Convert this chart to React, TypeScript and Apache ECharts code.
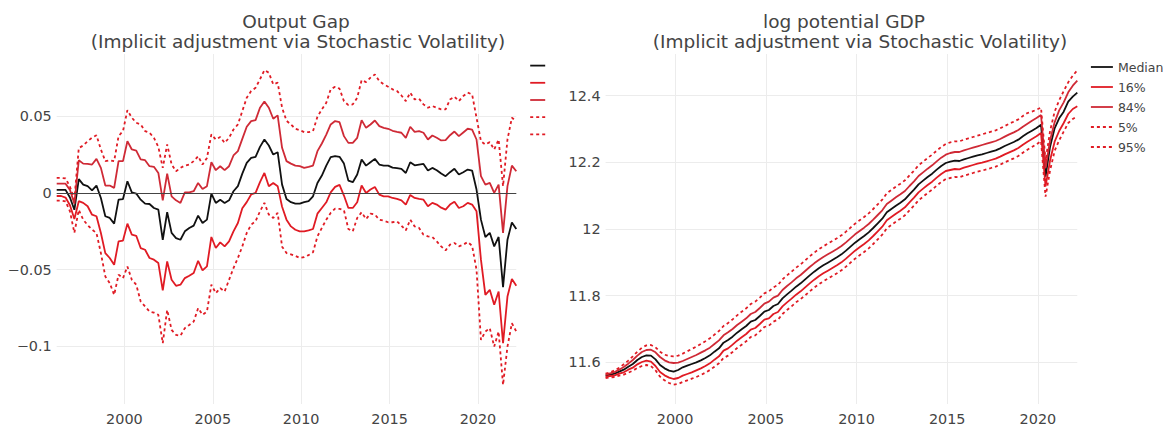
import React, { useEffect, useRef } from "react";
import * as echarts from "echarts";

// ---- x: quarterly observations (decimal years) ----
const START_YEAR = 1996.17;
const N_QUARTERS = 105;
const years: number[] = Array.from({ length: N_QUARTERS }, (_, i) => +(START_YEAR + i * 0.25).toFixed(2));

// ---- tick labels ----
const yearTicks = [2000, 2005, 2010, 2015, 2020];
const yearLabels = ["2000", "2005", "2010", "2015", "2020"];
const gapTicks = [-0.1, -0.05, 0, 0.05];
const gapLabels = ["\u22120.1", "\u22120.05", "0", "0.05"];
const gdpTicks = [11.6, 11.8, 12, 12.2, 12.4];
const gdpLabels = ["11.6", "11.8", "12", "12.2", "12.4"];

const seriesNames = ["Median", "16%", "84%", "5%", "95%"];

// ---- Output gap ----
const gapMedian = [
  0.002, 0.002, 0.002, -0.003, -0.011, 0.009, 0.0054, 0.0044, 0.0017, 0.0048,
  -0.0033, -0.0152, -0.0163, -0.02, -0.0044, -0.004, 0.0076, 0.0004, -0.0004, -0.0044,
  -0.007, -0.0072, -0.0098, -0.0109, -0.0305, -0.0126, -0.026, -0.0294, -0.0305, -0.025,
  -0.0228, -0.0213, -0.0148, -0.0196, -0.0174, -0.0004, -0.0065, -0.0044, -0.0065, -0.0048,
  0.0011, 0.0044, 0.0126, 0.0196, 0.0228, 0.0235, 0.03, 0.0348, 0.0309, 0.025,
  0.0265, 0.0054, -0.004, -0.006, -0.007, -0.007, -0.006, -0.0054, -0.0022, 0.0065,
  0.0113, 0.0178, 0.0233, 0.024, 0.0235, 0.0191, 0.008, 0.007, 0.012, 0.0218,
  0.0178, 0.02, 0.0222, 0.0185, 0.0178, 0.0178, 0.0165, 0.0161, 0.0157, 0.013,
  0.02, 0.018, 0.0185, 0.0189, 0.0146, 0.0163, 0.0148, 0.0126, 0.0109, 0.0135,
  0.0157, 0.012, 0.0135, 0.0152, 0.0146, 0.0022, -0.0174, -0.0287, -0.026, -0.0348,
  -0.0287, -0.0614, -0.0305, -0.0192, -0.0235,
];
const gap16 = [
  -0.002, -0.002, -0.003, -0.008, -0.017, -0.0054, -0.0065, -0.0087, -0.0142, -0.0152,
  -0.0261, -0.0392, -0.0424, -0.0468, -0.0316, -0.031, -0.02, -0.0272, -0.0279, -0.0359,
  -0.037, -0.0424, -0.0435, -0.0457, -0.0635, -0.0446, -0.0566, -0.0605, -0.0598, -0.0555,
  -0.054, -0.0522, -0.0442, -0.0505, -0.0479, -0.0287, -0.0359, -0.0322, -0.0348, -0.0316,
  -0.025, -0.0196, -0.01, -0.006, -0.001, 0.0, 0.007, 0.013, 0.0044, 0.0065,
  0.0044, -0.009, -0.0174, -0.0218, -0.024, -0.025, -0.025, -0.0244, -0.0235, -0.0135,
  -0.0098, -0.0061, 0.0004, 0.0039, 0.0052, -0.0017, -0.0098, -0.0098, -0.0061, 0.0048,
  0.0, 0.0022, 0.0039, -0.0011, -0.0022, -0.0022, -0.0033, -0.0039, -0.0048, -0.0076,
  -0.0013, -0.0033, -0.0039, -0.0044, -0.0087, -0.0065, -0.0076, -0.0096, -0.0109, -0.0076,
  -0.0057, -0.0098, -0.0087, -0.0065, -0.0076, -0.012, -0.0435, -0.0664, -0.0631, -0.0729,
  -0.0642, -0.0979, -0.0675, -0.0561, -0.0605,
];
const gap84 = [
  0.006, 0.006, 0.006, 0.002, -0.007, 0.0213, 0.0191, 0.0189, 0.0185, 0.0222,
  0.0163, 0.0048, 0.0048, 0.0033, 0.0207, 0.0207, 0.0337, 0.0283, 0.0276, 0.0218,
  0.0213, 0.0174, 0.017, 0.013, -0.0048, 0.0126, -0.0022, -0.0048, -0.0065, 0.0004,
  0.0004, 0.0011, 0.0065, 0.0026, 0.0044, 0.02, 0.0148, 0.0174, 0.0148, 0.0174,
  0.0244, 0.0272, 0.0352, 0.0431, 0.0468, 0.0474, 0.0555, 0.0596, 0.0555, 0.0483,
  0.0505, 0.0294, 0.0207, 0.0191, 0.0178, 0.0174, 0.0163, 0.017, 0.0178, 0.0272,
  0.0322, 0.038, 0.0446, 0.0468, 0.0461, 0.037, 0.0326, 0.0326, 0.0359, 0.0474,
  0.0424, 0.0446, 0.0472, 0.0435, 0.0424, 0.0418, 0.0405, 0.0398, 0.0392, 0.0359,
  0.0431, 0.0398, 0.0403, 0.0392, 0.0348, 0.0374, 0.0359, 0.0342, 0.0344, 0.0376,
  0.04, 0.037, 0.0394, 0.0418, 0.0413, 0.0348, 0.0109, 0.0054, 0.0065, 0.0,
  0.0054, -0.026, 0.0044, 0.0178, 0.0141,
];
const gap5 = [
  -0.005, -0.005, -0.0055, -0.012, -0.026, -0.011, -0.0174, -0.021, -0.0239, -0.0261,
  -0.0392, -0.0544, -0.0587, -0.0664, -0.0533, -0.0555, -0.0479, -0.0566, -0.0598, -0.0707,
  -0.074, -0.0773, -0.078, -0.0794, -0.0979, -0.0762, -0.0892, -0.0925, -0.093, -0.0881,
  -0.086, -0.0838, -0.0751, -0.0794, -0.0773, -0.0598, -0.0653, -0.062, -0.0642, -0.0566,
  -0.049, -0.0424, -0.0348, -0.0261, -0.0207, -0.0185, -0.012, -0.0065, -0.0141, -0.0163,
  -0.013, -0.035, -0.0392, -0.04, -0.041, -0.0424, -0.0418, -0.0405, -0.0387, -0.0283,
  -0.0228, -0.0174, -0.013, -0.0102, -0.0104, -0.0113, -0.0235, -0.025, -0.0163, -0.0126,
  -0.017, -0.0135, -0.0141, -0.0174, -0.0181, -0.0191, -0.0191, -0.0185, -0.0213, -0.0244,
  -0.0174, -0.0218, -0.0228, -0.0272, -0.0283, -0.0287, -0.0316, -0.0348, -0.0374, -0.0337,
  -0.0326, -0.0348, -0.0337, -0.032, -0.0344, -0.05, -0.0957, -0.0903, -0.0881, -0.1001,
  -0.0903, -0.1251, -0.1001, -0.0849, -0.0903,
];
const gap95 = [
  0.0098, 0.0098, 0.0095, 0.004, -0.004, 0.0292, 0.0309, 0.0337, 0.036, 0.0376,
  0.0283, 0.0207, 0.0213, 0.0207, 0.037, 0.0403, 0.0539, 0.049, 0.0457, 0.0446,
  0.0403, 0.0392, 0.0359, 0.03, 0.0163, 0.0316, 0.0185, 0.0141, 0.0163, 0.0178,
  0.0185, 0.0207, 0.0239, 0.0185, 0.0228, 0.0381, 0.0348, 0.0364, 0.0326, 0.0359,
  0.0413, 0.0446, 0.0533, 0.062, 0.0664, 0.0685, 0.074, 0.08, 0.0783, 0.0707,
  0.0718, 0.0555, 0.047, 0.0446, 0.0418, 0.0409, 0.0396, 0.0396, 0.0403, 0.0496,
  0.0544, 0.0587, 0.0675, 0.0692, 0.0679, 0.0598, 0.0572, 0.0577, 0.062, 0.0735,
  0.0722, 0.0751, 0.0772, 0.0729, 0.0707, 0.0692, 0.0675, 0.0664, 0.0635, 0.0598,
  0.0653, 0.0609, 0.0614, 0.0577, 0.0555, 0.0566, 0.0555, 0.0544, 0.0544, 0.0609,
  0.0627, 0.0598, 0.0631, 0.0653, 0.0642, 0.049, 0.0337, 0.0315, 0.0331, 0.0283,
  0.0348, 0.0044, 0.0348, 0.049, 0.0468,
];

// ---- log potential GDP ----
const gdpMedian = [
  11.56, 11.563, 11.566, 11.572, 11.578, 11.587, 11.595, 11.607, 11.616, 11.621,
  11.62, 11.609, 11.592, 11.582, 11.575, 11.572, 11.577, 11.585, 11.59, 11.595,
  11.6, 11.606, 11.613, 11.621, 11.632, 11.642, 11.659, 11.667, 11.677, 11.689,
  11.699, 11.709, 11.722, 11.727, 11.739, 11.752, 11.757, 11.769, 11.775, 11.792,
  11.804, 11.815, 11.827, 11.837, 11.849, 11.861, 11.872, 11.882, 11.891, 11.899,
  11.907, 11.915, 11.924, 11.935, 11.947, 11.959, 11.969, 11.979, 11.99, 12.003,
  12.017, 12.031, 12.05, 12.06, 12.07, 12.079, 12.089, 12.104, 12.118, 12.134,
  12.145, 12.156, 12.166, 12.178, 12.189, 12.198, 12.202, 12.205, 12.204, 12.209,
  12.213, 12.217, 12.221, 12.224, 12.228, 12.232, 12.236, 12.242, 12.249, 12.255,
  12.261, 12.268, 12.278, 12.287, 12.295, 12.303, 12.313, 12.157, 12.247, 12.302,
  12.332, 12.352, 12.382, 12.397, 12.409,
];
const gdp16 = [
  11.557, 11.559, 11.561, 11.566, 11.57, 11.578, 11.584, 11.594, 11.601, 11.605,
  11.602, 11.589, 11.571, 11.561, 11.554, 11.55, 11.553, 11.56, 11.565, 11.57,
  11.576, 11.582, 11.589, 11.597, 11.608, 11.618, 11.635, 11.642, 11.653, 11.665,
  11.675, 11.685, 11.698, 11.703, 11.715, 11.728, 11.732, 11.745, 11.751, 11.768,
  11.78, 11.791, 11.803, 11.813, 11.825, 11.837, 11.848, 11.858, 11.867, 11.875,
  11.883, 11.891, 11.9, 11.911, 11.923, 11.935, 11.945, 11.955, 11.966, 11.979,
  11.993, 12.007, 12.026, 12.036, 12.046, 12.055, 12.065, 12.08, 12.094, 12.11,
  12.121, 12.132, 12.142, 12.154, 12.165, 12.174, 12.177, 12.18, 12.179, 12.184,
  12.188, 12.192, 12.196, 12.199, 12.203, 12.207, 12.211, 12.217, 12.224, 12.23,
  12.236, 12.243, 12.253, 12.262, 12.27, 12.278, 12.288, 12.128, 12.206, 12.262,
  12.294, 12.318, 12.345, 12.36, 12.368,
];
const gdp84 = [
  11.563, 11.567, 11.571, 11.578, 11.586, 11.596, 11.607, 11.62, 11.631, 11.637,
  11.638, 11.63, 11.616, 11.606, 11.6, 11.598, 11.599, 11.604, 11.61, 11.616,
  11.622, 11.629, 11.636, 11.644, 11.655, 11.666, 11.681, 11.69, 11.7, 11.712,
  11.722, 11.732, 11.745, 11.751, 11.763, 11.776, 11.782, 11.794, 11.8, 11.817,
  11.829, 11.84, 11.852, 11.862, 11.874, 11.886, 11.897, 11.907, 11.916, 11.924,
  11.932, 11.94, 11.949, 11.96, 11.972, 11.984, 11.994, 12.004, 12.015, 12.028,
  12.042, 12.056, 12.075, 12.085, 12.095, 12.104, 12.114, 12.129, 12.143, 12.159,
  12.17, 12.181, 12.191, 12.203, 12.214, 12.223, 12.228, 12.231, 12.231, 12.236,
  12.24, 12.244, 12.248, 12.252, 12.256, 12.26, 12.264, 12.27, 12.277, 12.284,
  12.29, 12.297, 12.307, 12.316, 12.325, 12.333, 12.342, 12.183, 12.266, 12.32,
  12.356, 12.38, 12.41, 12.43, 12.445,
];
const gdp5 = [
  11.553, 11.555, 11.556, 11.56, 11.563, 11.569, 11.575, 11.583, 11.589, 11.592,
  11.589, 11.576, 11.557, 11.546, 11.538, 11.533, 11.535, 11.541, 11.546, 11.551,
  11.556, 11.562, 11.569, 11.577, 11.587, 11.597, 11.613, 11.62, 11.631, 11.643,
  11.653, 11.663, 11.676, 11.681, 11.693, 11.706, 11.71, 11.722, 11.728, 11.745,
  11.757, 11.768, 11.78, 11.79, 11.801, 11.813, 11.824, 11.834, 11.843, 11.851,
  11.859, 11.867, 11.876, 11.887, 11.899, 11.911, 11.921, 11.931, 11.942, 11.955,
  11.969, 11.983, 12.002, 12.012, 12.022, 12.031, 12.041, 12.056, 12.07, 12.086,
  12.097, 12.108, 12.118, 12.13, 12.141, 12.15, 12.153, 12.156, 12.155, 12.16,
  12.164, 12.168, 12.172, 12.175, 12.179, 12.183, 12.187, 12.193, 12.2, 12.206,
  12.212, 12.219, 12.229, 12.238, 12.246, 12.254, 12.264, 12.097, 12.176, 12.234,
  12.266, 12.292, 12.318, 12.33, 12.338,
];
const gdp95 = [
  11.566, 11.57, 11.576, 11.584, 11.594, 11.605, 11.618, 11.632, 11.644, 11.651,
  11.652, 11.645, 11.632, 11.623, 11.619, 11.618, 11.62, 11.626, 11.633, 11.64,
  11.647, 11.655, 11.663, 11.672, 11.683, 11.694, 11.709, 11.718, 11.729, 11.741,
  11.752, 11.762, 11.775, 11.782, 11.794, 11.807, 11.813, 11.825, 11.832, 11.849,
  11.861, 11.872, 11.884, 11.894, 11.906, 11.918, 11.929, 11.939, 11.948, 11.956,
  11.964, 11.972, 11.981, 11.992, 12.004, 12.016, 12.026, 12.036, 12.047, 12.06,
  12.074, 12.088, 12.107, 12.117, 12.127, 12.136, 12.146, 12.161, 12.175, 12.191,
  12.202, 12.213, 12.223, 12.235, 12.246, 12.255, 12.26, 12.263, 12.263, 12.268,
  12.272, 12.276, 12.28, 12.284, 12.288, 12.292, 12.296, 12.302, 12.309, 12.316,
  12.322, 12.329, 12.339, 12.348, 12.352, 12.358, 12.364, 12.205, 12.294, 12.352,
  12.386, 12.414, 12.44, 12.46, 12.476,
];

const FONT = '"DejaVu Sans", Verdana, sans-serif';
const TEXT = "#444";
const GRID = "#ececec";
const BLACK = "#111111";
const RED_A = "#e01b24";
const RED_B = "#cf2a36";

const styles: Record<string, { color: string; type: any }> = {
  Median: { color: BLACK, type: "solid" },
  "16%": { color: RED_A, type: "solid" },
  "84%": { color: RED_B, type: "solid" },
  "5%": { color: RED_A, type: [3, 3] },
  "95%": { color: RED_A, type: [3, 3] },
};

function tickFormatter(ticks: number[], labels: string[]) {
  return (v: number) => {
    for (let i = 0; i < ticks.length; i++) {
      if (Math.abs(v - ticks[i]) < 1e-6) return labels[i];
    }
    return "";
  };
}

function makeSeries(gridIdx: number, arrays: number[][]) {
  return seriesNames.map((name, si) => {
    const s: any = {
      type: "line",
      name,
      xAxisIndex: gridIdx,
      yAxisIndex: gridIdx,
      symbol: "none",
      showSymbol: false,
      silent: true,
      lineStyle: { width: 1.8, color: styles[name].color, type: styles[name].type },
      itemStyle: { color: styles[name].color },
      data: years.map((x, i) => [x, arrays[si][i]]),
    };
    if (gridIdx === 0 && si === 0) {
      s.markLine = {
        silent: true,
        symbol: "none",
        label: { show: false },
        lineStyle: { color: "#444", width: 1, type: "solid" },
        data: [{ yAxis: 0 }],
      };
    }
    return s;
  });
}

function xAxis(gridIndex: number) {
  return {
    type: "value",
    gridIndex,
    min: years[0],
    max: years[years.length - 1],
    minInterval: 5,
    maxInterval: 5,
    axisLine: { show: false },
    axisTick: { show: false },
    axisLabel: {
      color: TEXT,
      fontFamily: FONT,
      fontSize: 14.4,
      margin: 8,
      showMinLabel: false,
      showMaxLabel: false,
      formatter: tickFormatter(yearTicks, yearLabels),
    },
    splitLine: { show: true, showMinLine: false, showMaxLine: false, lineStyle: { color: GRID, width: 1 } },
  };
}

function yAxis(gridIndex: number, min: number, max: number, step: number, ticks: number[], labels: string[]) {
  return {
    type: "value",
    gridIndex,
    min,
    max,
    minInterval: step,
    maxInterval: step,
    axisLine: { show: false },
    axisTick: { show: false },
    axisLabel: {
      color: TEXT,
      fontFamily: FONT,
      fontSize: 14.4,
      margin: 5,
      showMinLabel: false,
      showMaxLabel: false,
      formatter: tickFormatter(ticks, labels),
    },
    splitLine: { show: true, showMinLine: false, showMaxLine: false, lineStyle: { color: GRID, width: 1 } },
  };
}

const titleText = (text: string, x: number, y: number) => ({
  type: "text",
  x,
  y,
  silent: true,
  style: {
    text,
    fill: TEXT,
    font: `18.5px ${FONT}`,
    align: "center",
    verticalAlign: "middle",
  },
});

const legendBase = {
  data: seriesNames,
  orient: "vertical",
  top: 60,
  padding: 0,
  itemHeight: 14,
  itemGap: 6,
  selectedMode: false,
  itemStyle: { opacity: 0, borderWidth: 0 },
  lineStyle: { width: 1.8 },
};

const option: any = {
  animation: false,
  backgroundColor: "#ffffff",
  grid: [
    { left: 56.7, top: 54, width: 459.6, height: 350, containLabel: false },
    { left: 605.6, top: 54, width: 471.7, height: 350, containLabel: false },
  ],
  xAxis: [xAxis(0), xAxis(1)],
  yAxis: [
    yAxis(0, -0.1375, 0.0905, 0.05, gapTicks, gapLabels),
    yAxis(1, 11.475, 12.525, 0.2, gdpTicks, gdpLabels),
  ],
  legend: [
    {
      ...legendBase,
      left: 1090,
      itemWidth: 22,
      textStyle: { color: TEXT, fontFamily: FONT, fontSize: 12.5, lineHeight: 14 },
    },
    {
      ...legendBase,
      left: 529.3,
      itemWidth: 15,
      formatter: () => "",
      textStyle: { color: TEXT, fontFamily: FONT, fontSize: 12.5, lineHeight: 14 },
    },
  ],
  graphic: [
    titleText("Output Gap", 296, 21),
    titleText("(Implicit adjustment via Stochastic Volatility)", 298, 41),
    titleText("log potential GDP", 844, 21),
    titleText("(Implicit adjustment via Stochastic Volatility)", 860, 41),
  ],
  series: [
    ...makeSeries(0, [gapMedian, gap16, gap84, gap5, gap95]),
    ...makeSeries(1, [gdpMedian, gdp16, gdp84, gdp5, gdp95]),
  ],
};

export default function App() {
  const ref = useRef<HTMLDivElement>(null);
  useEffect(() => {
    if (!ref.current) return;
    const chart = echarts.init(ref.current, null, { renderer: "svg" });
    chart.setOption(option);
    return () => {
      chart.dispose();
    };
  }, []);
  return (
    <div
      ref={ref}
      style={{ position: "fixed", left: 0, top: 0, width: 1164, height: 429, background: "#fff" }}
    />
  );
}
